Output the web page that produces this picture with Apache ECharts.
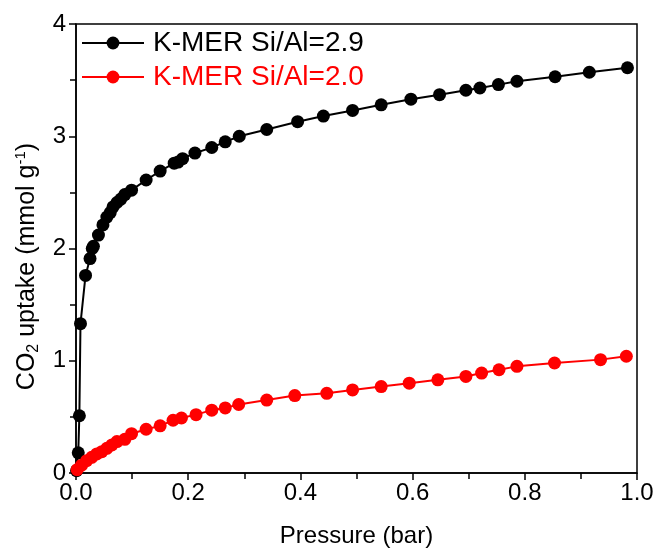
<!DOCTYPE html>
<html>
<head>
<meta charset="utf-8">
<script src="https://cdn.jsdelivr.net/npm/echarts@6/dist/echarts.min.js"></script>
<style>html,body{margin:0;padding:0;background:#fff;}#c{width:658px;height:553px;}</style>
</head>
<body>
<div id="c"></div>
<script>
const seriesNames = ['K-MER Si/Al=2.9', 'K-MER Si/Al=2.0'];
const blackPressure = [0.001, 0.004, 0.006, 0.008, 0.017, 0.025, 0.029, 0.031, 0.040, 0.048, 0.055, 0.061, 0.066, 0.073, 0.080, 0.087, 0.099, 0.125, 0.150, 0.175, 0.182, 0.190, 0.212, 0.242, 0.266, 0.291, 0.340, 0.395, 0.441, 0.493, 0.544, 0.597, 0.648, 0.695, 0.720, 0.753, 0.786, 0.854, 0.915, 0.983];
const blackUptake = [0.02, 0.18, 0.51, 1.33, 1.76, 1.91, 2.00, 2.02, 2.12, 2.21, 2.28, 2.32, 2.37, 2.41, 2.44, 2.48, 2.52, 2.61, 2.69, 2.76, 2.77, 2.80, 2.85, 2.90, 2.95, 3.00, 3.06, 3.13, 3.18, 3.23, 3.28, 3.33, 3.37, 3.41, 3.43, 3.46, 3.49, 3.53, 3.57, 3.61];
const redPressure = [0.002, 0.010, 0.019, 0.028, 0.037, 0.046, 0.055, 0.064, 0.073, 0.087, 0.099, 0.125, 0.150, 0.173, 0.188, 0.214, 0.242, 0.266, 0.290, 0.340, 0.390, 0.447, 0.493, 0.544, 0.594, 0.645, 0.695, 0.723, 0.754, 0.786, 0.853, 0.935, 0.981];
const redUptake = [0.03, 0.07, 0.11, 0.14, 0.17, 0.19, 0.22, 0.25, 0.28, 0.30, 0.35, 0.39, 0.42, 0.47, 0.49, 0.52, 0.56, 0.58, 0.61, 0.65, 0.69, 0.71, 0.74, 0.77, 0.80, 0.83, 0.86, 0.89, 0.92, 0.95, 0.98, 1.01, 1.04];
const xTicks = ['0.0', '0.2', '0.4', '0.6', '0.8', '1.0'];
const yTicks = ['0', '1', '2', '3', '4'];

const FONT = '"Liberation Sans", Arial, sans-serif';
const pair = (xs, ys) => xs.map((x, i) => [x, ys[i]]);

const chart = echarts.init(document.getElementById('c'), null, {renderer: 'canvas'});
chart.setOption({
  backgroundColor: '#fff',
  animation: false,
  textStyle: {fontFamily: FONT},
  grid: {left: 76, right: 21, top: 24, bottom: 77, show: true, borderColor: '#000', borderWidth: 1.5, backgroundColor: 'transparent'},
  legend: {
    orient: 'vertical', left: 81, top: 28, padding: 0,
    itemWidth: 62, itemHeight: 16, itemGap: 4,
    textStyle: {fontSize: 28, fontFamily: FONT, lineHeight: 30, padding: [0, 0, 0, 4], color: 'inherit'},
    data: seriesNames
  },
  xAxis: {
    type: 'value', min: 0, max: 1, interval: 0.2,
    name: 'Pressure (bar)', nameLocation: 'middle', nameGap: 51,
    nameTextStyle: {fontSize: 24, color: '#000', fontFamily: FONT},
    axisLine: {onZero: false, lineStyle: {color: '#000', width: 1.5}},
    axisTick: {show: true, inside: false, length: 7, lineStyle: {color: '#000', width: 1.5}},
    minorTick: {show: true, splitNumber: 2, length: 6, lineStyle: {color: '#000', width: 1.5}},
    axisLabel: {fontSize: 24, color: '#000', margin: 8, fontFamily: FONT, formatter: (v) => xTicks[Math.round(v / 0.2)] || ''},
    splitLine: {show: false}
  },
  yAxis: {
    type: 'value', min: 0, max: 4, interval: 1,
    name: '{n|CO}{s|2}{n| uptake (mmol g}{p|-1}{n|)}', nameLocation: 'middle', nameGap: 34, nameRotate: 90,
    nameTextStyle: {
      color: '#000', fontFamily: FONT, padding: [0, 36, 0, 0],
      rich: {
        n: {fontSize: 25, fontFamily: FONT, color: '#000', lineHeight: 30},
        s: {fontSize: 16, fontFamily: FONT, color: '#000', padding: [14, 0, 0, 0], lineHeight: 30},
        p: {fontSize: 15, fontFamily: FONT, color: '#000', padding: [0, 0, 12, 0], lineHeight: 30}
      }
    },
    axisLine: {onZero: false, lineStyle: {color: '#000', width: 1.5}},
    axisTick: {show: true, inside: false, length: 7, lineStyle: {color: '#000', width: 1.5}},
    minorTick: {show: true, splitNumber: 2, length: 6, lineStyle: {color: '#000', width: 1.5}},
    axisLabel: {fontSize: 24, color: '#000', margin: 10, fontFamily: FONT, formatter: (v) => yTicks[Math.round(v)] || ''},
    splitLine: {show: false}
  },
  series: [
    {
      name: seriesNames[0], type: 'line', data: pair(blackPressure, blackUptake),
      symbol: 'circle', symbolSize: 13, showAllSymbol: true,
      lineStyle: {color: '#000', width: 2}, itemStyle: {color: '#000'}, z: 2
    },
    {
      name: seriesNames[1], type: 'line', data: pair(redPressure, redUptake),
      symbol: 'circle', symbolSize: 13, showAllSymbol: true,
      lineStyle: {color: '#ff0000', width: 2}, itemStyle: {color: '#ff0000'}, z: 3
    }
  ]
});
</script>
</body>
</html>
